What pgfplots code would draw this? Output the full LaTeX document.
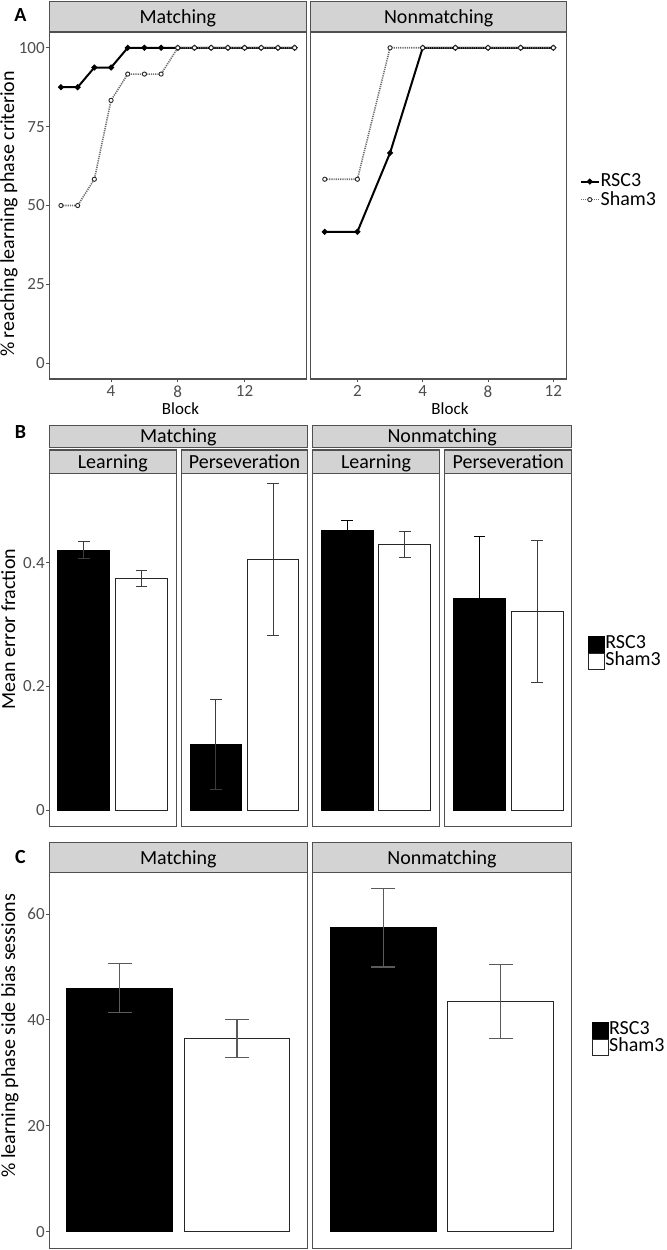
\documentclass[border=0pt]{standalone}
\usepackage{fontspec}
\setmainfont{Carlito}
\usepackage{pgfplots}
\pgfplotsset{compat=1.18}
\definecolor{stripgray}{RGB}{211,211,211}
\definecolor{bordercol}{RGB}{80,80,80}
\definecolor{tickcol}{RGB}{77,77,77}
\definecolor{errcol}{RGB}{60,60,60}
\definecolor{errcolC}{RGB}{90,90,90}
\definecolor{shamcol}{RGB}{110,110,110}
\tikzset{strip/.style={draw=bordercol, fill=stripgray, line width=0.6pt}}
\pgfplotsset{
  facet/.style={
    scale only axis, anchor=north west, clip=false,
    axis line style={draw=bordercol, line width=0.6pt},
    tick align=outside, major tick length=1.7pt,
    tick style={draw=bordercol, line width=0.5pt},
    xtick pos=left, ytick pos=left,
    ticklabel style={font=\fontsize{8.5}{9}\selectfont, text=tickcol},
    yticklabel style={inner xsep=0.4pt},
    xticklabel style={inner sep=0.3pt, yshift=-1.2pt},
    /pgf/number format/assume math mode=true,
  },
  rsc/.style={black, line width=1pt, mark=*, mark size=0.9pt, mark options={solid, fill=black}},
  sham/.style={shamcol, line width=0.8pt, dash pattern=on 0.6pt off 0.5pt, mark=*, mark size=1.05pt, mark options={solid, fill=white, draw=black!85, line width=0.45pt}},
  barR/.style={ybar, bar width=0.9, bar shift=0pt, fill=black, draw=black, line width=0.5pt},
  barS/.style={ybar, bar width=0.9, bar shift=0pt, fill=white, draw=black!85, line width=0.5pt},
  errB/.style={error bars/.cd, y dir=both, y explicit, error bar style={errcol, line width=0.5pt}, error mark options={rotate=90, errcol, mark size=2.9pt, line width=0.5pt}},
  errBk/.style={error bars/.cd, y dir=both, y explicit, error bar style={black, line width=0.5pt}, error mark options={rotate=90, black, mark size=2.9pt, line width=0.5pt}},
  errC/.style={error bars/.cd, y dir=both, y explicit, error bar style={errcolC, line width=0.6pt}, error mark options={rotate=90, errcolC, mark size=6pt, line width=0.6pt}},
  barlegend/.style={legend image code/.code={\draw[##1] (0pt,-4pt) rectangle (8pt,4pt);}},
}
\newcommand{\stripfont}{\fontsize{10}{12}\selectfont}
\begin{document}
\begin{tikzpicture}
% ---------- Panel A ----------
\begin{axis}[facet, at={(24.65pt,-16pt)}, width=128.5pt, height=173.5pt,
  xmin=0.3, xmax=15.7, ymin=-5, ymax=105, xtick={4,8,12}, ytick={0,25,50,75,100}]
\addplot[rsc] coordinates {(1,87.5)(2,87.5)(3,93.75)(4,93.75)(5,100)(6,100)(7,100)(8,100)(9,100)(10,100)(11,100)(12,100)(13,100)(14,100)(15,100)};
\addplot[sham] coordinates {(1,50)(2,50)(3,58.33)(4,83.33)(5,91.67)(6,91.67)(7,91.67)(8,100)(9,100)(10,100)(11,100)(12,100)(13,100)(14,100)(15,100)};
\end{axis}
\begin{axis}[facet, at={(155.35pt,-16pt)}, width=128pt, height=173.5pt,
  xmin=0.57, xmax=8.41, ymin=-5, ymax=105, xtick={2,4,6,8}, xticklabels={2,4,8,12}, ytick=\empty,
  legend style={at={(1.0496,0.5424)}, anchor=west, draw=none, fill=none, inner sep=0pt,
    font=\fontsize{10}{10}\selectfont, nodes={inner sep=0.4pt}},
  legend cell align=left,
  legend image code/.code={\draw[mark repeat=2,mark phase=2,#1] plot coordinates {(0pt,0pt) (4.5pt,0pt) (9pt,0pt)};}]
\addplot[rsc] coordinates {(1,41.67)(2,41.67)(3,66.67)(4,100)(5,100)(6,100)(7,100)(8,100)};
\addplot[sham] coordinates {(1,58.33)(2,58.33)(3,100)(4,100)(5,100)(6,100)(7,100)(8,100)};
\legend{RSC3,Sham3}
\end{axis}
\draw[strip] (24.65pt,-0.75pt) rectangle (153.15pt,-16pt);
\draw[strip] (155.35pt,-0.75pt) rectangle (283.35pt,-16pt);
\node[anchor=base, font=\stripfont] at (88.9pt,-11.5pt) {Matching};
\node[anchor=base, font=\stripfont] at (219.35pt,-11.5pt) {Nonmatching};
\node[anchor=base, font=\fontsize{8.5}{9}\selectfont] at (90.25pt,-207.3pt) {Block};
\node[anchor=base, font=\fontsize{8.5}{9}\selectfont] at (225pt,-207.3pt) {Block};
\node[rotate=90, font=\fontsize{10}{12}\selectfont] at (4.5pt,-107pt) {\% reaching learning phase criterion};
\node[font=\bfseries\fontsize{10}{12}\selectfont] at (10.25pt,-7.3pt) {A};
% ---------- Panel B ----------
\begin{axis}[facet, at={(24.65pt,-236.65pt)}, width=63.5pt, height=176.7pt,
  xmin=0.4, xmax=2.6, ymin=-0.027, ymax=0.5446, xtick=\empty, ytick={0,0.2,0.4}]
\addplot[barR, errB] coordinates {(1,0.4205) +- (0,0.013)};
\addplot[barS, errB] coordinates {(2,0.374) +- (0,0.013)};
\end{axis}
\begin{axis}[facet, at={(90.85pt,-236.65pt)}, width=62.8pt, height=176.7pt,
  xmin=0.4, xmax=2.6, ymin=-0.027, ymax=0.5446, xtick=\empty, ytick=\empty]
\addplot[barR, errB] coordinates {(1,0.106) +- (0,0.073)};
\addplot[barS, errB] coordinates {(2,0.405) +- (0,0.1225)};
\end{axis}
\begin{axis}[facet, at={(156.35pt,-236.65pt)}, width=63.3pt, height=176.7pt,
  xmin=0.4, xmax=2.6, ymin=-0.027, ymax=0.5446, xtick=\empty, ytick=\empty]
\addplot[barR, errBk] coordinates {(1,0.452) +- (0,0.017)};
\addplot[barS, errB] coordinates {(2,0.429) +- (0,0.021)};
\end{axis}
\begin{axis}[facet, at={(222.35pt,-236.65pt)}, width=63.5pt, height=176.7pt,
  xmin=0.4, xmax=2.6, ymin=-0.027, ymax=0.5446, xtick=\empty, ytick=\empty,
  barlegend,
  legend style={at={(1.128,0.4929)}, anchor=west, draw=none, fill=none, inner sep=0pt,
    font=\fontsize{10}{10}\selectfont, nodes={inner sep=0pt, text height=6.2pt, text depth=1.8pt}},
  legend cell align=left]
\addplot[barR, errBk] coordinates {(1,0.342) +- (0,0.101)};
\addplot[barS, errB] coordinates {(2,0.321) +- (0,0.1145)};
\legend{RSC3,Sham3}
\end{axis}
\draw[strip] (24.65pt,-212.85pt) rectangle (153.65pt,-223.65pt);
\draw[strip] (156.35pt,-212.85pt) rectangle (285.85pt,-223.65pt);
\draw[strip] (24.65pt,-225pt) rectangle (88.15pt,-236.65pt);
\draw[strip] (90.85pt,-225pt) rectangle (153.65pt,-236.65pt);
\draw[strip] (156.35pt,-225pt) rectangle (219.65pt,-236.65pt);
\draw[strip] (222.35pt,-225pt) rectangle (285.85pt,-236.65pt);
\node[anchor=base, font=\stripfont] at (89.15pt,-221.4pt) {Matching};
\node[anchor=base, font=\stripfont] at (221.1pt,-221.4pt) {Nonmatching};
\node[anchor=base, font=\stripfont] at (56.4pt,-234pt) {Learning};
\node[anchor=base, font=\stripfont] at (122.25pt,-234pt) {Perseveration};
\node[anchor=base, font=\stripfont] at (188pt,-234pt) {Learning};
\node[anchor=base, font=\stripfont] at (254.1pt,-234pt) {Perseveration};
\node[rotate=90, font=\fontsize{10}{12}\selectfont] at (4.2pt,-314.5pt) {Mean error fraction};
\node[font=\bfseries\fontsize{10}{12}\selectfont] at (10.25pt,-215.8pt) {B};
% ---------- Panel C ----------
\begin{axis}[facet, at={(24.65pt,-436.35pt)}, width=129pt, height=187.8pt,
  xmin=0.4, xmax=2.6, ymin=-3.135, ymax=67.8, xtick=\empty, ytick={0,20,40,60}]
\addplot[barR, errC] coordinates {(1,46.0) +- (0,4.6)};
\addplot[barS, errC] coordinates {(2,36.5) +- (0,3.65)};
\end{axis}
\begin{axis}[facet, at={(156.35pt,-436.35pt)}, width=129.3pt, height=187.8pt,
  xmin=0.4, xmax=2.6, ymin=-3.135, ymax=67.8, xtick=\empty, ytick=\empty,
  barlegend,
  legend style={at={(1.0789,0.5583)}, anchor=west, draw=none, fill=none, inner sep=0pt,
    font=\fontsize{10}{10}\selectfont, nodes={inner sep=0pt, text height=6.2pt, text depth=1.8pt}},
  legend cell align=left]
\addplot[barR, errC] coordinates {(1,57.4) +- (0,7.4)};
\addplot[barS, errC] coordinates {(2,43.45) +- (0,7.0)};
\legend{RSC3,Sham3}
\end{axis}
\draw[strip] (24.65pt,-421.35pt) rectangle (153.65pt,-436.35pt);
\draw[strip] (156.35pt,-421.35pt) rectangle (285.65pt,-436.35pt);
\node[anchor=base, font=\stripfont] at (89.15pt,-432pt) {Matching};
\node[anchor=base, font=\stripfont] at (221pt,-432pt) {Nonmatching};
\node[rotate=90, font=\fontsize{10}{12}\selectfont] at (5pt,-517.9pt) {\% learning phase side bias sessions};
\node[font=\bfseries\fontsize{10}{12}\selectfont] at (10.25pt,-428.5pt) {C};
\pgfresetboundingbox
\useasboundingbox (0,0) rectangle (333pt,-625pt);
\end{tikzpicture}
\end{document}
